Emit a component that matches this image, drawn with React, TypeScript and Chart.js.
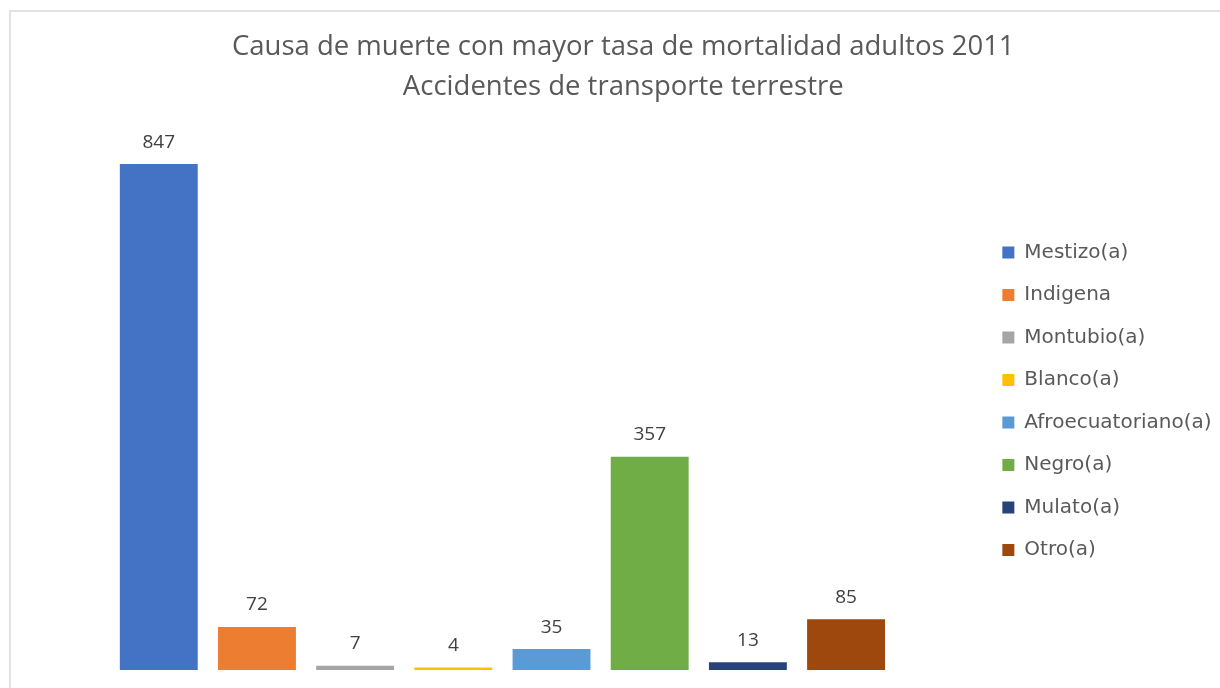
import React, { useEffect, useRef } from "react";
import { Chart, registerables } from "chart.js";

Chart.register(...registerables);

const categories = [
  "Mestizo(a)",
  "Indigena",
  "Montubio(a)",
  "Blanco(a)",
  "Afroecuatoriano(a)",
  "Negro(a)",
  "Mulato(a)",
  "Otro(a)",
];
const values = [847, 72, 7, 4, 35, 357, 13, 85];
const colors = [
  "#4472C4",
  "#ED7D31",
  "#A5A5A5",
  "#FFC000",
  "#5B9BD5",
  "#70AD47",
  "#264478",
  "#9E480E",
];
const xLabels = ["Accidentes de transporte terrestre"];
const titleLines = [
  "Causa de muerte con mayor tasa de mortalidad adultos 2011",
  "Accidentes de transporte terrestre",
];
const yMin = 0;
const yMax = 900;

const dataLabels = {
  id: "dataLabels",
  afterDatasetsDraw(chart: any) {
    const ctx = chart.ctx;
    ctx.save();
    ctx.font = "19px 'Open Sans'";
    ctx.fillStyle = "#404040";
    ctx.textAlign = "center";
    ctx.textBaseline = "alphabetic";
    chart.data.datasets.forEach((ds: any, i: number) => {
      const meta = chart.getDatasetMeta(i);
      meta.data.forEach((el: any, j: number) => {
        ctx.fillText(String(ds.data[j]), el.x, el.y - 16.5);
      });
    });
    ctx.restore();
  },
};

export default function App() {
  const ref = useRef<HTMLCanvasElement>(null);
  useEffect(() => {
    if (!ref.current) return;
    const chart = new Chart(ref.current, {
      type: "bar",
      data: {
        labels: xLabels,
        datasets: categories.map((c, i) => ({
          label: c,
          data: [values[i]],
          backgroundColor: colors[i],
          borderWidth: 0,
          categoryPercentage: 0.8226,
          barPercentage: 0.7935,
        })),
      },
      options: {
        responsive: false,
        animation: false,
        layout: { padding: { top: 0, left: 25, right: -1.5, bottom: 18 } },
        scales: {
          x: { display: false },
          y: { display: false, min: yMin, max: yMax },
        },
        plugins: {
          title: {
            display: true,
            text: titleLines,
            color: "#595959",
            font: { family: "'Open Sans'", size: 27.5, weight: "normal", lineHeight: 1.45 },
            padding: { top: 27.5, bottom: 25.1 },
          },
          legend: {
            display: true,
            position: "right",
            align: "center",
            fullSize: false,
            labels: {
              boxWidth: 12,
              boxHeight: 12,
              padding: 22.5,
              color: "#595959",
              font: { family: "'DejaVu Sans'", size: 20 },
            },
          },
          tooltip: { enabled: false },
        },
      },
      plugins: [dataLabels],
    });
    return () => chart.destroy();
  }, []);

  return (
    <div
      style={{
        position: "fixed",
        left: 0,
        top: 0,
        width: 1220,
        height: 688,
        overflow: "hidden",
        background: "#ffffff",
      }}
    >
      <div
        style={{
          position: "absolute",
          left: 9,
          top: 10,
          width: 1230,
          height: 700,
          borderTop: "2px solid #e2e2e2",
          borderLeft: "2px solid #e2e2e2",
        }}
      />
      <canvas
        ref={ref}
        width={1220}
        height={688}
        style={{ position: "absolute", left: 0, top: 0, display: "block" }}
      />
    </div>
  );
}
